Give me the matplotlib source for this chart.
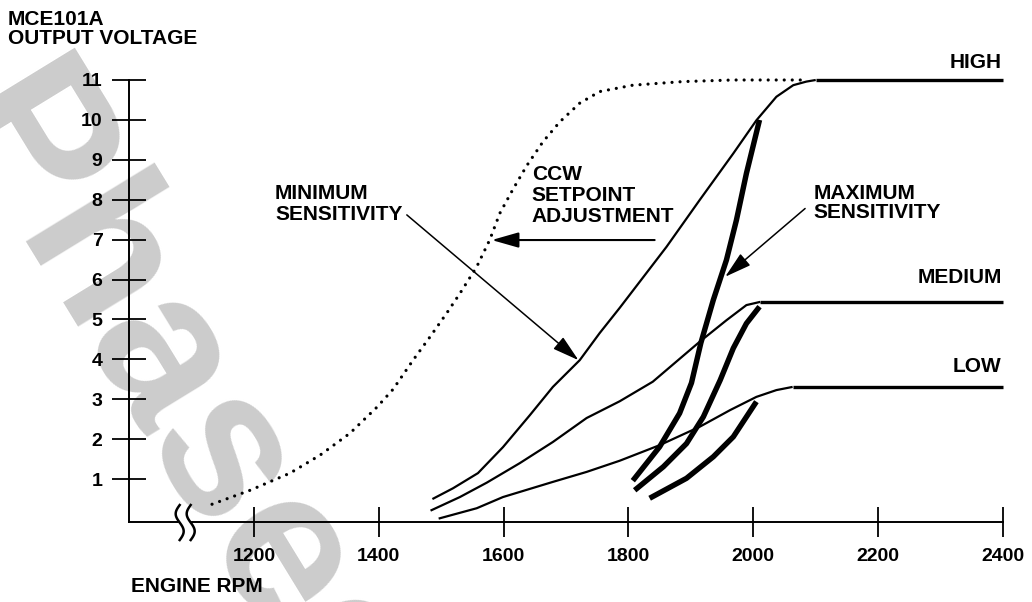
import numpy as np
import matplotlib
matplotlib.use("Agg")
import matplotlib.pyplot as plt

plt.rcParams['font.family'] = ['Liberation Sans', 'DejaVu Sans']
plt.rcParams['font.weight'] = 'bold'

# ---- data (engine rpm, output voltage) ----
high_rpm = [1486, 1519, 1559, 1599, 1642, 1679, 1722, 1754, 1786, 1861, 1914, 1968,
            2005, 2037, 2064, 2085, 2100]
high_v = [0.5, 0.77, 1.15, 1.8, 2.6, 3.31, 3.98, 4.66, 5.29, 6.82, 7.99, 9.16,
          9.99, 10.58, 10.87, 10.96, 11.0]
high_level = 11.0

medium_rpm = [1483, 1530, 1573, 1626, 1679, 1733, 1786, 1839, 1914, 1957, 1989, 2011]
medium_v = [0.21, 0.55, 0.91, 1.4, 1.93, 2.53, 2.95, 3.44, 4.44, 4.98, 5.36, 5.44]
medium_level = 5.44

low_rpm = [1496, 1557, 1599, 1679, 1733, 1786, 1850, 1914, 1963, 2005, 2037, 2063]
low_v = [0.01, 0.27, 0.55, 0.93, 1.18, 1.46, 1.85, 2.31, 2.73, 3.06, 3.23, 3.31]
low_level = 3.31

max_high_rpm = [1807, 1850, 1882, 1901, 1916, 1936, 1957, 1973, 1989, 2010]
max_high_v = [0.96, 1.81, 2.65, 3.41, 4.41, 5.49, 6.49, 7.49, 8.66, 10.0]
max_medium_rpm = [1810, 1856, 1893, 1920, 1947, 1968, 1989, 2010]
max_medium_v = [0.72, 1.31, 1.89, 2.56, 3.48, 4.28, 4.9, 5.32]
max_low_rpm = [1834, 1893, 1936, 1968, 2005]
max_low_v = [0.52, 1.02, 1.56, 2.06, 2.94]

ccw_rpm = [1133, 1194, 1258, 1306, 1354, 1397, 1423, 1455, 1482, 1509, 1530, 1557,
           1578, 1594, 1615, 1637, 1663, 1690, 1722, 1754, 1807, 1887, 1967, 2080]
ccw_v = [0.37, 0.72, 1.15, 1.6, 2.15, 2.8, 3.25, 3.98, 4.56, 5.16, 5.65, 6.32,
         7.0, 7.66, 8.26, 8.85, 9.45, 9.95, 10.42, 10.71, 10.87, 10.96, 11.0, 11.0]

x_ticks = [1200, 1400, 1600, 1800, 2000, 2200, 2400]
y_ticks = [1, 2, 3, 4, 5, 6, 7, 8, 9, 10, 11]
x_min, x_max = 1000, 2400
y_min, y_max = -0.075, 11
break_rpm = 1090

fig = plt.figure(figsize=(10.32, 6.02), dpi=100)
ax = fig.add_axes([129 / 1032, 1 - 522 / 602, 874 / 1032, 442 / 602])
ax.set_facecolor('none')
ax.set_xlim(x_min, x_max)
ax.set_ylim(y_min, y_max)

# watermark
fig.text(-55 / 1032, 1 - 110 / 602, 'Phased Out', fontsize=150, color='#cccccc',
         fontweight='bold', rotation=-58.5, rotation_mode='anchor', ha='left',
         va='baseline', zorder=-5)

for s in ['top', 'right']:
    ax.spines[s].set_visible(False)
for s in ['left', 'bottom']:
    ax.spines[s].set_linewidth(1.4)
ax.spines['left'].set_bounds(y_min, 11)
ax.set_xticks(x_ticks)
ax.set_yticks(y_ticks)
ax.tick_params(axis='both', direction='inout', width=1.3, labelsize=14)
ax.tick_params(axis='y', length=24, pad=7)
ax.tick_params(axis='x', length=22, pad=8)

thin = 1.6
flat = 2.4
thick = 3.9
kw = dict(color='black', solid_capstyle='butt', solid_joinstyle='round', clip_on=False)
for r, v, lvl in [(high_rpm, high_v, high_level), (medium_rpm, medium_v, medium_level),
                  (low_rpm, low_v, low_level)]:
    ax.plot(r, v, lw=thin, **kw)
    ax.plot([r[-1], x_max], [lvl, lvl], lw=flat, **kw)
for r, v in [(max_high_rpm, max_high_v), (max_medium_rpm, max_medium_v), (max_low_rpm, max_low_v)]:
    ax.plot(r, v, lw=thick, **kw)

ax.plot(ccw_rpm, ccw_v, color='black', lw=2.3, linestyle=(0, (0.01, 2.5)),
        dash_capstyle='round', clip_on=False)

# axis break
t = np.linspace(0, 1, 60)
px_x = (x_max - x_min) / 874.0
px_y = (y_max - y_min) / 442.0
yy = 0.35 - t * 35 * px_y
off = -4 * np.sin(2 * np.pi * t) * px_x
xa = break_rpm - 5.5 * px_x + off
xb = break_rpm + 5.5 * px_x + off
ax.fill_betweenx(yy, xa, xb, color='white', zorder=5, clip_on=False)
ax.plot(xa, yy, color='black', lw=1.8, zorder=6, clip_on=False)
ax.plot(xb, yy, color='black', lw=1.8, zorder=6, clip_on=False)

# annotations
fs = 15
head = '-|>,head_length=1.65,head_width=0.47'
ax.text(1234, 7.89, 'MINIMUM\nSENSITIVITY', fontsize=fs, ha='left', va='center', linespacing=1.12)
ax.annotate('', xy=(1720, 3.98), xytext=(1445, 7.62),
            arrowprops=dict(arrowstyle=head, mutation_scale=10,
                            lw=1.1, color='black', shrinkA=0, shrinkB=0))
ax.text(1645, 8.1, 'CCW\nSETPOINT\nADJUSTMENT', fontsize=fs, ha='left', va='center', linespacing=1.15)
ax.annotate('', xy=(1581, 6.99), xytext=(1842, 6.99),
            arrowprops=dict(arrowstyle=head, mutation_scale=10,
                            lw=1.5, color='black', shrinkA=0, shrinkB=0))
ax.text(2097, 7.92, 'MAXIMUM\nSENSITIVITY', fontsize=fs, ha='left', va='center', linespacing=1.05)
ax.annotate('', xy=(1955, 6.07), xytext=(2083, 7.78),
            arrowprops=dict(arrowstyle=head, mutation_scale=10,
                            lw=1.1, color='black', shrinkA=0, shrinkB=0))

ax.text(2398, 11.45, 'HIGH', fontsize=fs, ha='right', va='center')
ax.text(2398, 6.04, 'MEDIUM', fontsize=fs, ha='right', va='center')
ax.text(2398, 3.83, 'LOW', fontsize=fs, ha='right', va='center')

fig.text(8 / 1032, 1 - 29 / 602, 'MCE101A\nOUTPUT VOLTAGE', fontsize=15, ha='left', va='center',
         linespacing=1.02)
fig.text(197 / 1032, 1 - 587 / 602, 'ENGINE RPM', fontsize=15, ha='center', va='center')

fig.savefig('out.png', dpi=100)
